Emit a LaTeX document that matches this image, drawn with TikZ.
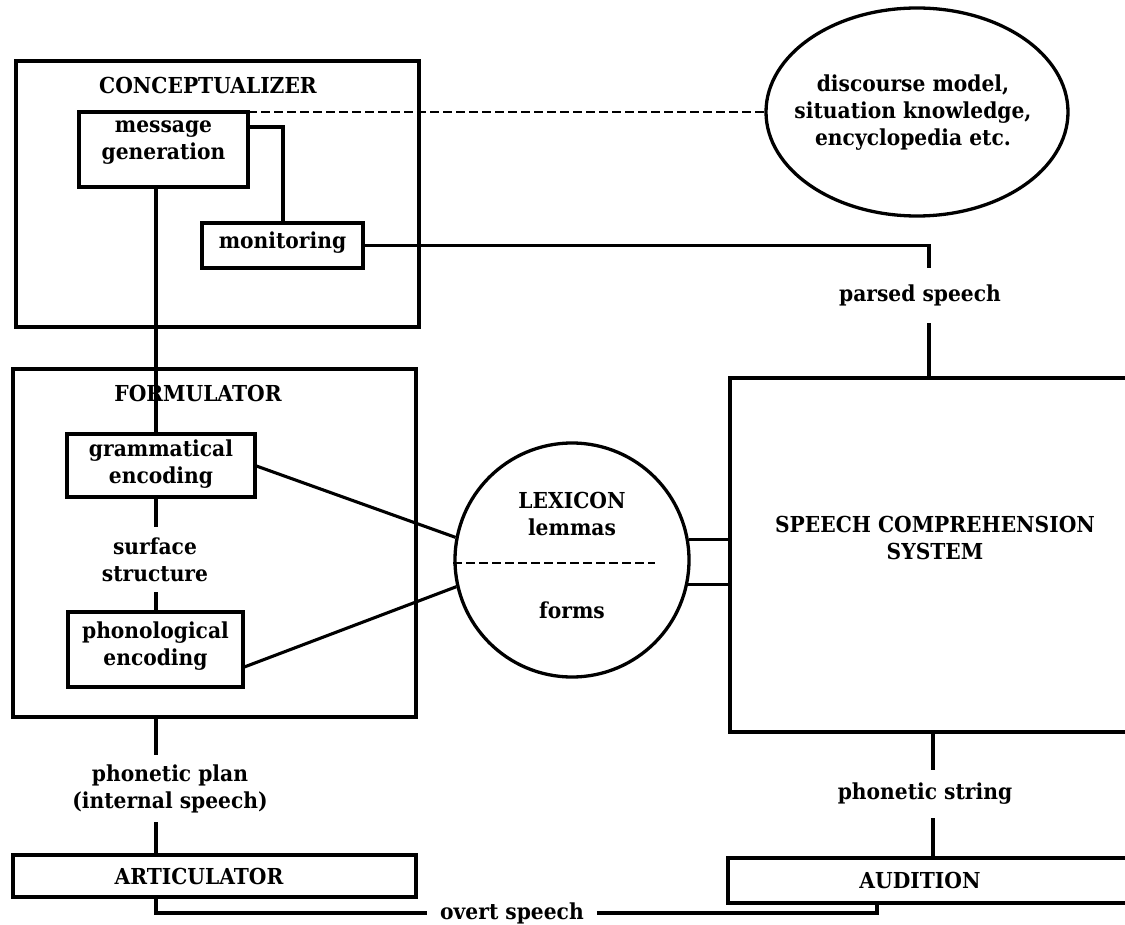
\documentclass[tikz,border=0pt]{standalone}
\usepackage{fontspec}
\setmainfont{DejaVu Serif}[FakeStretch=0.92]
\usetikzlibrary{shapes.geometric,calc}
\begin{document}
\begin{tikzpicture}[x=1pt,y=-1pt,
  box/.style={draw, line width=3.3pt, inner sep=0pt, outer sep=0pt, anchor=north west},
  conn/.style={line width=3.1pt},
  dashline/.style={line width=2.8pt, dash pattern=on 9pt off 4pt},
  txt/.style={font=\fontsize{22}{27}\selectfont\bfseries, align=center, inner sep=0pt},
]
\clip (0,0) rectangle (1125,925);
\fill[white] (0,0) rectangle (1125,925);
% spine coordinates
\coordinate (lx) at (156,0);
\coordinate (rx) at (929,0);
\coordinate (px) at (933,0);
\coordinate (ax) at (877,0);

% Conceptualizer
\node[box, minimum width=403pt, minimum height=266pt] (conc) at (16,61) {};
\node[txt] (conct) at (208,85) {CONCEPTUALIZER};
\node[box, minimum width=169pt, minimum height=75pt] (msg) at (79,112) {};
\node[txt] (msgt) at (163.5,142.5) {message\\generation};
\node[box, minimum width=161pt, minimum height=45pt] (mon) at (202,223) {};
\node[txt] (mont) at (282.5,243) {monitoring};

% Discourse ellipse
\node[draw, ellipse, line width=3.3pt, minimum width=302pt, minimum height=208pt, inner sep=0pt] (disc) at (917,112) {};
\node[txt] (disct) at (913,112.5) {discourse model,\\situation knowledge,\\encyclopedia etc.};

% parsed speech
\node[txt, minimum height=55pt] (parsed) at (920,295.5) {parsed speech};

% Formulator
\node[box, minimum width=403pt, minimum height=348pt] (form) at (13,369) {};
\node[txt] (formt) at (198,393) {FORMULATOR};
\node[box, minimum width=188pt, minimum height=63pt] (gram) at (67,434) {};
\node[txt] (gramt) at (161,464) {grammatical\\encoding};
\node[txt, minimum height=65pt] (surf) at (155,559.5) {surface\\structure};
\node[box, minimum width=175pt, minimum height=75pt] (phon) at (68,612) {};
\node[txt] (phont) at (155.5,646.5) {phonological\\encoding};

% Lexicon
\node[draw, circle, line width=3.3pt, minimum size=234pt, inner sep=0pt] (lex) at (572,560) {};
\node[txt] (lext) at (572,513.5) {LEXICON\\lemmas};
\node[txt] (formst) at (572,610) {forms};
\draw[dashline] ($(lex.west)+(0,3)$) -- ($(lex.west)+(202,3)$);

% Speech comprehension system
\node[box, minimum width=430pt, minimum height=354pt] (scs) at (730,378) {};
\node[txt] (scst) at (935,537.5) {SPEECH COMPREHENSION\\SYSTEM};

% phonetic plan / string
\node[txt, minimum height=67pt] (plan) at (170,788.5) {phonetic plan\\(internal speech)};
\node[txt, minimum height=48pt] (pstr) at (925,794) {phonetic string};

% Articulator / Audition
\node[box, minimum width=403pt, minimum height=42pt] (art) at (13,855) {};
\node[txt] (artt) at (199,876) {ARTICULATOR};
\node[box, minimum width=430pt, minimum height=45pt] (aud) at (728,858) {};
\node[txt] (audt) at (920,880) {AUDITION};

\node[txt, inner xsep=13pt] (overt) at (512,913) {overt speech};

% connectors
\draw[dashline] (msg.north east) -- (disc.west);
\draw[conn] ($(msg.north east)+(0,15)$) -| ($(mon.north west)+(81,0)$);
\draw[conn] (mon.east) -| (parsed.north -| rx);
\draw[conn] (parsed.south -| rx) -- (scs.north -| rx);
\draw[conn] (msg.south -| lx) -- (gram.north -| lx);
\draw[conn] (gram.south -| lx) -- (surf.north -| lx);
\draw[conn] (surf.south -| lx) -- (phon.north -| lx);
\draw[conn] (gram.east) -- (lex.169);
\draw[conn] ($(phon.east)+(0,18)$) -- (lex.193);
\draw[conn] (lex.10) -- (lex.10 -| scs.west);
\draw[conn] (lex.-12) -- (lex.-12 -| scs.west);
\draw[conn] (form.south -| lx) -- (plan.north -| lx);
\draw[conn] (plan.south -| lx) -- (art.north -| lx);
\draw[conn] (scs.south -| px) -- (pstr.north -| px);
\draw[conn] (pstr.south -| px) -- (aud.north -| px);
\draw[conn] (art.south -| lx) |- (overt.west);
\draw[conn] (overt.east) -| (aud.south -| ax);
\end{tikzpicture}
\end{document}
